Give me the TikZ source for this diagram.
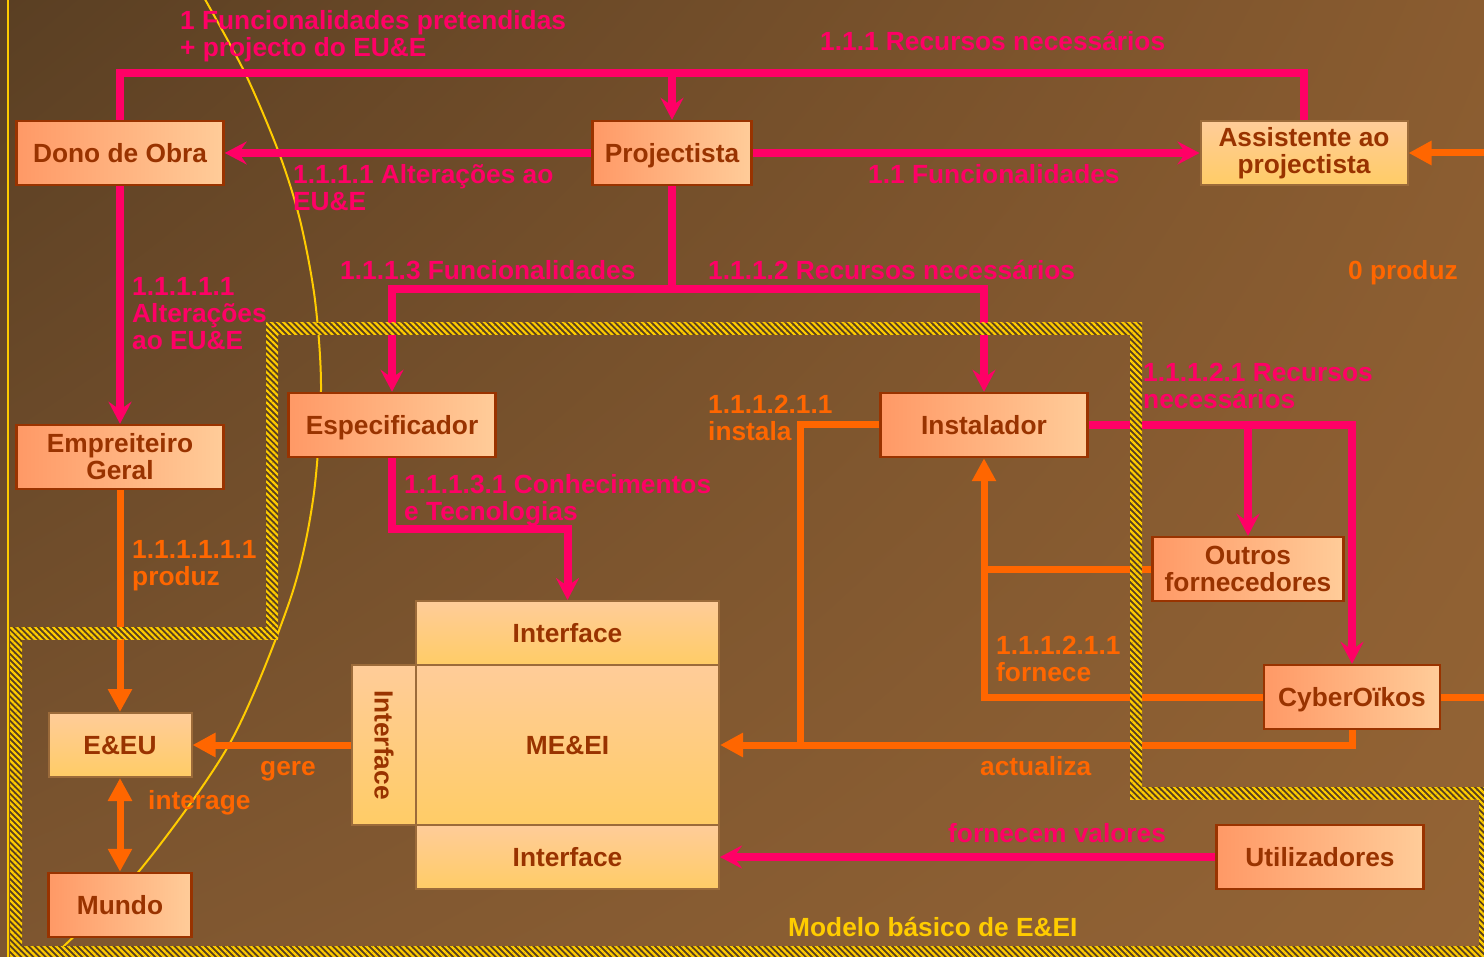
\documentclass[tikz,border=0pt]{standalone}
\usepackage{fontspec}
\setmainfont{Liberation Sans}
\usetikzlibrary{arrows.meta,patterns.meta,calc,shadings}

\definecolor{pinkc}{HTML}{FF0066}
\definecolor{orangec}{HTML}{FF6600}
\definecolor{boxtext}{HTML}{993300}
\definecolor{boxedge}{HTML}{993300}
\definecolor{softedge}{HTML}{9C6B3A}
\definecolor{salmon}{HTML}{FF9966}
\definecolor{peach}{HTML}{FFCC99}
\definecolor{apricot}{HTML}{FFCC66}
\definecolor{gold}{HTML}{FFCC00}
\definecolor{bandbg}{HTML}{5A4020}
\definecolor{bgUL}{HTML}{5A3F23}
\definecolor{bgUR}{HTML}{8A5C30}
\definecolor{bgLL}{HTML}{7E5630}
\definecolor{bgLR}{HTML}{946435}

\begin{document}
\begin{tikzpicture}[x=1pt,y=-1pt,
  every node/.style={font=\bfseries\fontsize{26.3}{27}\selectfont, inner sep=0pt},
  hbox/.style={draw=boxedge, line width=2.5pt, left color=salmon, right color=peach,
    text=boxtext, align=center, minimum width=#1, minimum height=64pt},
  vbox/.style={draw=softedge, line width=2pt, top color=peach, bottom color=apricot,
    text=boxtext, align=center, minimum width=#1, minimum height=64pt},
  oneline/.style={text height=18.8pt, text depth=0pt},
  pinkline/.style={draw=pinkc, line width=8pt},
  pinkarrow/.style={pinkline, -{Stealth[length=22pt,width=23pt,inset=8pt]}},
  orangeline/.style={draw=orangec, line width=7pt},
  orangearrow/.style={orangeline, -{Triangle[length=23pt,width=23pt]}},
  orangeboth/.style={orangeline, {Triangle[length=23pt,width=23pt]}-{Triangle[length=23pt,width=23pt]}},
  pinklabel/.style={text=pinkc, anchor=base west, align=left},
  orangelabel/.style={text=orangec, anchor=base west, align=left},
  band/.style={preaction={fill=bandbg}, pattern={Lines[angle=-45,distance=4.3pt,line width=2.2pt]}, pattern color=gold},
]
\useasboundingbox (0,0) rectangle (1484,957);
\shade[upper left=bgUL, upper right=bgUR, lower left=bgLL, lower right=bgLR] (0,0) rectangle (1484,957);

% thin guide line on the left edge
\draw[gold, line width=2pt] (8,0) -- (8,957);

% ---------- thin arc (runs behind the boxes) ----------
\draw[gold, line width=2pt] plot[smooth] coordinates {(202,-6) (245,73) (279,153) (300,220) (315,300) (321,390) (313,500) (290,600) (230,743) (140,870) (63,947) (52,958)};

% ---------- boxes ----------
\node[hbox=207, oneline] (dono) at (120,153) {Dono de Obra};
\node[hbox=159, oneline] (proj) at (672,153) {Projectista};
\node[vbox=207] (assist) at (1304,153) {Assistente ao\\projectista};
\node[hbox=207] (empr) at (120,457) {Empreiteiro\\Geral};
\node[hbox=207, oneline] (espec) at (392,425) {Especificador};
\node[hbox=207, oneline] (instal) at (984,425) {Instalador};
\node[hbox=191] (outros) at (1248,569) {Outros\\fornecedores};
\node[hbox=176, oneline] (cyber) at (1352,697) {CyberOïkos};
\node[vbox=143, oneline] (eeu) at (120,745) {E\&EU};
\node[hbox=143, oneline] (mundo) at (120,905) {Mundo};
\node[vbox=303, oneline] (ifTop) at (567.5,633) {Interface};
\node[vbox=303, oneline, minimum height=160pt] (meei) at (567.5,745) {ME\&EI};
\node[vbox=64, minimum height=160pt] (ifLeft) at (384,745) {\rotatebox{-90}{Interface}};
\node[vbox=303, oneline] (ifBot) at (567.5,857) {Interface};
\node[hbox=207, oneline] (util) at (1320,857) {Utilizadores};

% ---------- pink flows ----------
\coordinate (rail) at (0,73);
\coordinate (split) at (0,289);
\coordinate (jog) at (0,529);
\draw[pinkline] (dono.north) -- (dono.north |- rail) -- (assist.north |- rail) -- (assist.north);
\draw[pinkarrow] (proj.north |- rail) -- (proj.north);
\draw[pinkarrow] (proj.west) -- (dono.east);
\draw[pinkarrow] (proj.east) -- (assist.west);
\draw[pinkline] (proj.south) -- (proj.south |- split);
\draw[pinkarrow] (proj.south |- split) -| (espec.north);
\draw[pinkarrow] (proj.south |- split) -| (instal.north);
\draw[pinkarrow] (dono.south) -- (empr.north);
\draw[pinkarrow] (espec.south) -- (espec.south |- jog) -| (ifTop.north);
\draw[pinkarrow] (instal.east) -| (cyber.north);
\draw[pinkarrow] (instal.east -| outros.north) -- (outros.north);
\draw[pinkarrow] (util.west) -- (ifBot.east);

% ---------- orange flows ----------
\coordinate (rimA) at (1484,153);
\coordinate (rimB) at (1484,697);
\coordinate (drop) at (800,0);
\draw[orangearrow] (rimA) -- (assist.east);
\draw[orangearrow] (empr.south) -- (eeu.north);
\draw[orangearrow] (ifLeft.west) -- (eeu.east);
\draw[orangeboth] (eeu.south) -- (mundo.north);
\draw[orangeline] (instal.west) -- (instal.west -| drop) -- (drop |- meei.east);
\draw[orangearrow] (cyber.south) |- (meei.east);
\draw[orangearrow] (cyber.west) -| (instal.south);
\draw[orangeline] (outros.west) -- (outros.west -| instal.south);
\draw[orangeline] (cyber.east) -- (rimB);

% ---------- labels (base = baseline of the last line) ----------
\node[pinklabel] (l1) at (180,57) {1 Funcionalidades pretendidas\\+ projecto do EU\&E};
\node[pinklabel] (l111) at (820,51) {1.1.1 Recursos necessários};
\node[pinklabel] (l1111) at (293,211) {1.1.1.1 Alterações ao\\EU\&E};
\node[pinklabel] (l11) at (868,184) {1.1 Funcionalidades};
\node[pinklabel] (l1113) at (340,280) {1.1.1.3 Funcionalidades};
\node[pinklabel] (l1112) at (708,280) {1.1.1.2 Recursos necessários};
\node[pinklabel] (l11111) at (132,350) {1.1.1.1.1\\Alterações\\ao EU\&E};
\node[pinklabel] (l11131) at (404,520) {1.1.1.3.1 Conhecimentos\\e Tecnologias};
\node[pinklabel] (l11121) at (1143,409) {1.1.1.2.1 Recursos\\necessários};
\node[pinklabel] (lval) at (948,842) {fornecem valores};
\node[orangelabel] (l0) at (1348,280) {0 produz};
\node[orangelabel] (linst) at (708,441) {1.1.1.2.1.1\\instala};
\node[orangelabel] (lprod) at (132,585) {1.1.1.1.1.1\\produz};
\node[orangelabel] (lforn) at (996,681) {1.1.1.2.1.1\\fornece};
\node[orangelabel] (lgere) at (260,775) {gere};
\node[orangelabel] (linter) at (148,809) {interage};
\node[orangelabel] (lact) at (980,775) {actualiza};
\node[text=gold, anchor=base west] (lmod) at (788,936) {Modelo básico de E\&EI};

% ---------- hatched boundary ----------
\fill[band] (266,323) rectangle (1142,335);
\fill[band] (266,323) rectangle (278,639);
\fill[band] (10,627) rectangle (278,639);
\fill[band] (10,627) rectangle (22,957);
\fill[band] (10,946) rectangle (1484,957);
\fill[band] (1130,323) rectangle (1142,799);
\fill[band] (1130,787) rectangle (1484,799);
\fill[band] (1479,787) rectangle (1484,957);
\end{tikzpicture}
\end{document}
